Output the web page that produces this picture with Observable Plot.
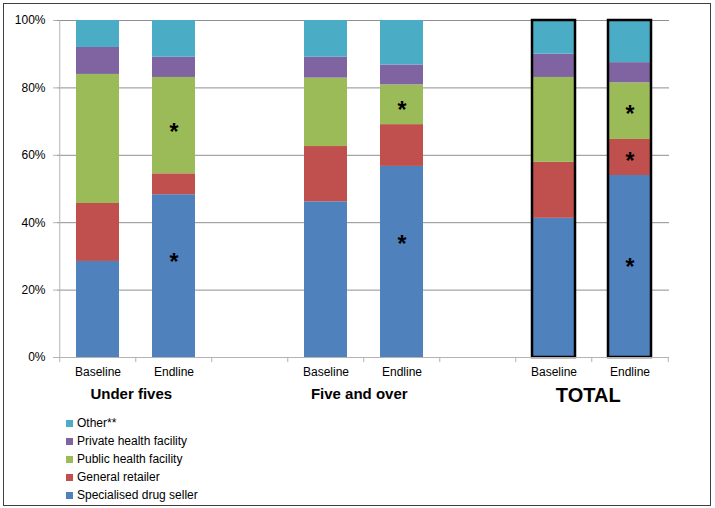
<!DOCTYPE html>
<html><head><meta charset="utf-8">
<script src="https://cdn.jsdelivr.net/npm/d3@7"></script>
<script src="https://cdn.jsdelivr.net/npm/@observablehq/plot@0.6"></script>
<style>
body{margin:0;background:#fff;font-family:"Liberation Sans",Arial,sans-serif;}
#wrap{position:relative;width:715px;height:508px;overflow:hidden;}
#frame{position:absolute;left:3px;top:3px;width:706px;height:501px;border:1px solid #404040;}
#chart{position:absolute;left:0;top:0;}
#legend{position:absolute;left:66px;top:414px;font-size:12px;color:#000;}
.item{display:flex;align-items:center;height:18px;}
.sw{width:7px;height:7px;margin-right:4px;}
</style></head><body>
<div id="wrap"><div id="frame"></div><div id="chart"></div><div id="legend"></div></div>
<script>
const groups = ["Under fives", "Five and over", "TOTAL"];
const periods = ["Baseline", "Endline"];
const sources = ["Specialised drug seller", "General retailer", "Public health facility", "Private health facility", "Other**"];
const colors = ["#4F81BD", "#C0504D", "#9BBB59", "#8064A2", "#4BACC6"];
// values per bar: UF-Baseline, UF-Endline, 5+-Baseline, 5+-Endline, TOTAL-Baseline, TOTAL-Endline (%)
const specialised = [28.5, 48.3, 46.2, 56.7, 41.3, 54.0];
const generalRetailer = [17.2, 6.2, 16.4, 12.4, 16.6, 10.7];
const publicHF = [38.3, 28.6, 20.3, 11.8, 25.2, 16.8];
const privateHF = [8.0, 6.0, 6.2, 5.9, 6.9, 6.0];
const other = [8.0, 10.9, 10.9, 13.2, 10.0, 12.5];
const yTicks = [0, 20, 40, 60, 80, 100];
// significance markers
const starBars = ["Under fives|Endline", "Under fives|Endline", "Five and over|Endline", "Five and over|Endline", "TOTAL|Endline", "TOTAL|Endline", "TOTAL|Endline"];
const starY = [68.8, 30.3, 75.3, 35.5, 74.1, 60.1, 28.6];

const series = [specialised, generalRetailer, publicHF, privateHF, other];
const slots = [];
groups.forEach((g, i) => { if (i > 0) slots.push("gap" + i); periods.forEach(p => slots.push(g + "|" + p)); });
const bars = groups.flatMap(g => periods.map(p => g + "|" + p));
const long = sources.flatMap((s, si) => bars.map((b, bi) => ({slot: b, source: s, value: series[si][bi]})));
const totalBars = bars.filter(b => b.startsWith("TOTAL|"));
const stars = starBars.map((b, i) => ({slot: b, y: starY[i]}));

const W = 715, ML = 57, MR = 46, MT = 20, H = 410, MB = H - 357;
const step = (W - ML - MR) / slots.length;
const axisGray = "#b3b3b3";

const plot = Plot.plot({
  width: W, height: H, marginLeft: ML, marginRight: MR, marginTop: MT, marginBottom: MB,
  style: {fontFamily: '"Liberation Sans", Arial, sans-serif', fontSize: "12px", color: "#000", background: "transparent", overflow: "visible"},
  x: {domain: slots, paddingInner: 0.438, paddingOuter: 0.219, axis: null},
  y: {domain: [0, 100], axis: null},
  color: {domain: sources, range: colors},
  marks: [
    Plot.ruleY(yTicks.slice(1), {stroke: "#8f8f8f", strokeWidth: 1}),
    Plot.barY(long, {x: "slot", y: "value", fill: "source"}),
    Plot.barY(totalBars, {x: d => d, y1: 0, y2: 100, fill: "none", stroke: "#000", strokeWidth: 2.5}),
    Plot.ruleY([0], {stroke: axisGray}),
    Plot.ruleX([slots[0]], {x: d => d, dx: -step / 2, y1: 0, y2: 100, stroke: axisGray}),
    Plot.axisY({ticks: yTicks, tickFormat: d => d + "%", tickSize: 4, tickPadding: 8, stroke: axisGray, label: null}),
    Plot.axisX({ticks: slots, tickSize: 0, tickPadding: 10, tickFormat: d => d.includes("|") ? d.split("|")[1] : "", label: null}),
    Plot.axisX({ticks: slots, tickSize: 5, tickFormat: () => "", dx: -step / 2, stroke: axisGray, label: null}),
    Plot.axisX({ticks: [slots[slots.length - 1]], tickSize: 5, tickFormat: () => "", dx: step / 2, stroke: axisGray, label: null}),
    Plot.text(stars, {x: "slot", y: "y", text: () => "*", fontSize: 23, fontWeight: "bold", dy: 7}),
    Plot.text(groups.filter(g => g !== "TOTAL"), {x: g => g + "|Baseline", frameAnchor: "bottom", dx: step / 2 - 5, dy: 41, text: d => d, fontSize: 15, fontWeight: "bold"}),
    Plot.text(groups.filter(g => g === "TOTAL"), {x: g => g + "|Baseline", frameAnchor: "bottom", dx: step / 2 - 4, dy: 44, text: d => d, fontSize: 20, fontWeight: "bold"})
  ]
});
document.getElementById("chart").appendChild(plot);

const legend = document.getElementById("legend");
sources.slice().reverse().forEach(s => {
  const it = document.createElement("div"); it.className = "item";
  const sw = document.createElement("span"); sw.className = "sw"; sw.style.background = colors[sources.indexOf(s)];
  const tx = document.createElement("span"); tx.textContent = s;
  it.appendChild(sw); it.appendChild(tx); legend.appendChild(it);
});
</script>
</body></html>
